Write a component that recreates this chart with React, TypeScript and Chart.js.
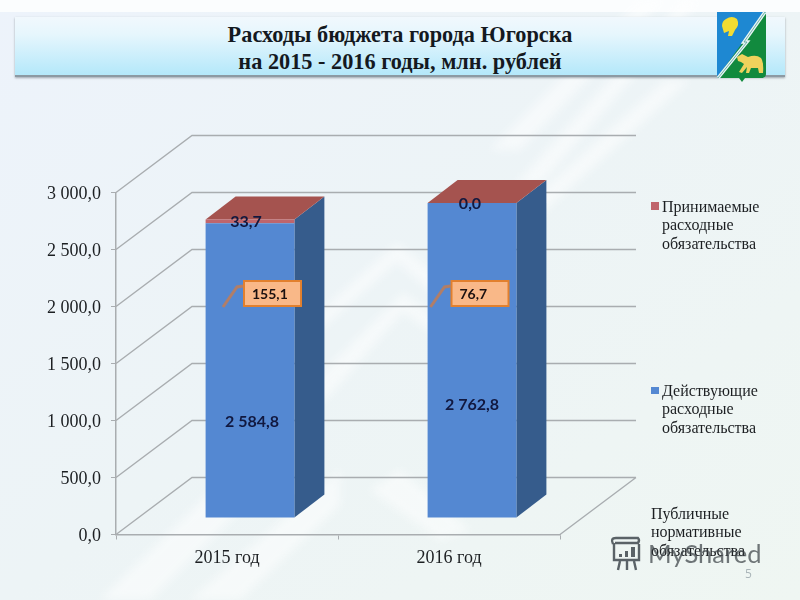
import { useEffect, useRef } from 'react';
import { Chart, registerables, Plugin } from 'chart.js';

Chart.register(...registerables);

const categories = ['2015 год', '2016 год'];
const activeValues = [2584.8, 2762.8];
const acceptedValues = [33.7, 0.0];
const calloutValues = [155.1, 76.7];
const yTicks = [0, 500, 1000, 1500, 2000, 2500, 3000];
const activeName = 'Действующие расходные обязательства';
const acceptedName = 'Принимаемые расходные обязательства';
const publicName = 'Публичные нормативные обязательства';
const titleLines = ['Расходы бюджета города Югорска', 'на 2015 - 2016 годы, млн. рублей'];

const SERIF = '"Liberation Serif", serif';
const LABEL_FONT = 'Lato, "Open Sans", sans-serif';
const BLUE = '#5488d2';
const BLUE_DARK = '#365c8c';
const RED = '#c0656c';
const RED_TOP = '#a5534f';
const GRID = '#a9adb0';

// wall depth of the fake 3D box, bar depth and where the bars sit inside the box
const WALL_DX = 76;
const WALL_DY = 57;
const BAR_DX = 30;
const BAR_DY = 23;
const SHIFT_X = 23;
const SHIFT_Y = 16.5;

const fmt = (v: number) => {
  const [a, b] = v.toFixed(1).split('.');
  return a.replace(/\B(?=(\d{3})+$)/g, ' ') + ',' + b;
};

const box3d: Plugin<'bar'> = {
  id: 'box3d',
  beforeDatasetsDraw(chart) {
    const { ctx, chartArea: a } = chart;
    const y = chart.scales.y;
    ctx.save();
    ctx.strokeStyle = GRID;
    ctx.lineWidth = 1.4;
    ctx.beginPath();
    yTicks.forEach(t => {
      const py = y.getPixelForValue(t);
      ctx.moveTo(a.left, py);
      ctx.lineTo(a.left + WALL_DX, py - WALL_DY);
      ctx.lineTo(a.right + WALL_DX, py - WALL_DY);
    });
    ctx.moveTo(a.right, a.bottom);
    ctx.lineTo(a.right + WALL_DX, a.bottom - WALL_DY);
    ctx.stroke();
    ctx.restore();

    // bars are pushed into the box, restored in afterDatasetsDraw
    ctx.save();
    ctx.translate(SHIFT_X, -SHIFT_Y);
    const low = chart.getDatasetMeta(0).data as any[];
    const high = chart.getDatasetMeta(1).data as any[];
    low.forEach((bar, i) => {
      const { x, width, base } = bar.getProps(['x', 'width', 'base']);
      const top = acceptedValues[i] > 0 ? high[i].y : bar.y;
      const l = x - width / 2;
      const r = x + width / 2;
      ctx.fillStyle = BLUE_DARK;
      ctx.beginPath();
      ctx.moveTo(r, top);
      ctx.lineTo(r + BAR_DX, top - BAR_DY);
      ctx.lineTo(r + BAR_DX, base - BAR_DY);
      ctx.lineTo(r, base);
      ctx.fill();
      ctx.fillStyle = RED_TOP;
      ctx.beginPath();
      ctx.moveTo(l, top);
      ctx.lineTo(l + BAR_DX, top - BAR_DY);
      ctx.lineTo(r + BAR_DX, top - BAR_DY);
      ctx.lineTo(r, top);
      ctx.fill();
    });
  },
  afterDatasetsDraw(chart) {
    const { ctx } = chart;
    ctx.restore();
    const low = chart.getDatasetMeta(0).data as any[];
    const high = chart.getDatasetMeta(1).data as any[];
    const valueNudge = [51, 44.5];
    const calloutNudge = [22.5, 8];
    const topNudge = [-4, -2];

    low.forEach((bar, i) => {
      const cx = bar.x + SHIFT_X;
      const mid = (bar.y + bar.base) / 2 - SHIFT_Y;
      const top = (acceptedValues[i] > 0 ? high[i].y : bar.y) - SHIFT_Y;
      ctx.save();
      ctx.textAlign = 'center';
      ctx.textBaseline = 'middle';
      ctx.fillStyle = '#11183f';
      ctx.font = `bold 16px ${LABEL_FONT}`;
      ctx.fillText(fmt(activeValues[i]), cx + 2 - i * 2, mid + valueNudge[i]);
      ctx.fillText(fmt(acceptedValues[i]), cx + topNudge[i], top + 2 - i);

      // callout with the leader line
      const bx = cx + calloutNudge[i] - 28.5;
      const by = 281;
      ctx.strokeStyle = '#b17e68';
      ctx.lineWidth = 3;
      ctx.beginPath();
      ctx.moveTo(bx - 1, by + 5);
      ctx.lineTo(bx - 7, by + 6);
      ctx.lineTo(bx - 21, by + 26);
      ctx.stroke();
      ctx.fillStyle = '#f9b888';
      ctx.strokeStyle = '#e2802e';
      ctx.lineWidth = 2;
      ctx.fillRect(bx, by, 57, 25);
      ctx.strokeRect(bx, by, 57, 25);
      ctx.fillStyle = '#1a1010';
      ctx.font = `bold 14px ${LABEL_FONT}`;
      ctx.textAlign = 'left';
      ctx.fillText(fmt(calloutValues[i]), bx + 8, by + 13.5);
      ctx.restore();
    });
  },
  afterDraw(chart) {
    const { ctx } = chart;
    const block = (text: string, x: number, y: number) => {
      text.split(' ').forEach((line, n) => ctx.fillText(line, x, y + n * 18.2));
    };
    ctx.save();
    ctx.font = `16px ${SERIF}`;
    ctx.fillStyle = '#1c1f22';
    ctx.textBaseline = 'middle';
    block(acceptedName, 662, 208);
    block(activeName, 662, 392);
    block(publicName, 651, 515);
    ctx.fillStyle = RED;
    ctx.fillRect(651, 202, 8, 8);
    ctx.fillStyle = BLUE;
    ctx.fillRect(651, 387, 8, 7);
    ctx.restore();
  },
};

function Background() {
  const bands = [
    // long diagonals running down from the top right
    '640,0 664,0 520,150 490,150',
    '682,0 700,0 540,185 515,185',
    '665,80 690,80 540,215 515,215',
    // chevrons in the middle
    '397,243 470,300 470,325 397,262 320,330 300,330',
    '403,293 470,340 470,360 403,312 330,395 300,420 300,395',
    // lower left
    '100,600 150,600 300,450 300,405',
    '190,600 240,600 340,505 340,470',
    '400,470 470,530 440,540 370,490',
  ];
  return (
    <svg width={800} height={600} style={{ position: 'absolute', left: 0, top: 0 }}>
      <defs>
        <linearGradient id="bg" x1="0" y1="0" x2="1" y2="1">
          <stop offset="0" stopColor="#edf3fb" />
          <stop offset="0.5" stopColor="#edf4f6" />
          <stop offset="1" stopColor="#eff6f2" />
        </linearGradient>
        <filter id="soft"><feGaussianBlur stdDeviation="4" /></filter>
      </defs>
      <rect width={800} height={600} fill="url(#bg)" />
      <rect width={800} height={12} fill="#fbfdfe" />
      <g fill="#ffffff" opacity={0.5} filter="url(#soft)">
        {bands.map((p, i) => <polygon key={i} points={p} />)}
      </g>
    </svg>
  );
}

function Banner() {
  return (
    <div style={{
      position: 'absolute', left: 15, top: 17, width: 770, height: 60,
      background: 'linear-gradient(#f1f8fd 0%, #e6f6fd 30%, #b4e8fa 100%)',
      borderBottom: '2px solid #8c9aa3', boxShadow: '0 1px 2px rgba(80,90,100,.5)',
      textAlign: 'center', fontFamily: SERIF, fontWeight: 'bold', fontSize: 22.3,
      lineHeight: '27px', color: '#14191f', paddingTop: 4, boxSizing: 'border-box',
    }}>
      {titleLines.map(t => <div key={t}>{t}</div>)}
    </div>
  );
}

function Crest() {
  return (
    <svg width={60} height={80} viewBox="0 0 60 80" style={{ position: 'absolute', left: 711, top: 8 }}>
      <path d="M6 4 H55 V66 Q55 70 50 70 H34 L31 74 L28 70 H6 Z" fill="#118a3e" />
      <path d="M6 4 H55 L29 38 L6 70 Z" fill="#1e88d2" />
      <path d="M54 4 L33 34 L36 34 L7 70" fill="none" stroke="#e8f4f4" strokeWidth={3.4} />
      <path d="M54 4 L33 34 L36 34 L7 70" fill="none" stroke="#4f9f94" strokeWidth={0.8} />
      <path d="M15 11 Q21 7 26 11 Q29 17 24 22 L21 28 L17 28 L18 23 L13 25 L11 18 Q11 13 15 11 Z" fill="#f2dc32" />
      <path d="M26 49 L31 46 L37 49 Q45 46 50 50 Q53 54 52 65 L48 65 L47 60 L40 60 L38 65 L35 65 L36 59 L31 65 L28 64 L33 56 L30 54 L27 53 Z" fill="#efd25c" />
    </svg>
  );
}

function Watermark() {
  return (
    <>
      <svg width={36} height={36} viewBox="0 0 36 36" style={{ position: 'absolute', left: 607, top: 536 }}>
        <g fill="none" stroke="#5a6267" strokeWidth={2.4}>
          <path d="M6 8 Q3 2 9 2 H31 Q33 4 31 7 H8 M7 7 V24 H32 V8" />
          <path d="M13 25 L11 34 M20 25 V34 M27 25 L29 34" />
        </g>
        <g fill="#5a6267">
          <rect x={12} y={18} width={3} height={3} />
          <rect x={18} y={15} width={3} height={6} />
          <rect x={24} y={11} width={4} height={10} />
        </g>
      </svg>
      <div style={{
        position: 'absolute', left: 648, top: 534, fontFamily: 'Lato, sans-serif',
        fontSize: 25.5, lineHeight: '38px', color: 'rgba(60,66,70,.72)',
      }}>MyShared</div>
      <div style={{
        position: 'absolute', left: 745, top: 565, fontFamily: '"Open Sans", sans-serif',
        fontSize: 12, color: '#a9b4b8',
      }}>5</div>
    </>
  );
}

export default function App() {
  const canvasRef = useRef<HTMLCanvasElement | null>(null);

  useEffect(() => {
    document.body.style.margin = '0';
    if (!canvasRef.current) return;
    const chart = new Chart(canvasRef.current, {
      type: 'bar',
      data: {
        labels: categories,
        datasets: [
          { label: activeName, data: activeValues, backgroundColor: BLUE, borderWidth: 0 },
          { label: acceptedName, data: acceptedValues, backgroundColor: RED, borderWidth: 0 },
        ],
      },
      options: {
        responsive: false,
        animation: false,
        devicePixelRatio: 1,
        layout: { padding: { top: 192.5, right: 240, left: 0, bottom: 0 } },
        plugins: { legend: { display: false }, title: { display: false }, tooltip: { enabled: false } },
        datasets: { bar: { barPercentage: 0.4, categoryPercentage: 1 } },
        scales: {
          x: {
            stacked: true,
            afterFit: (s: any) => { s.height = 65.5; },
            border: { color: GRID, width: 1.5 },
            grid: { drawOnChartArea: false, color: GRID, tickLength: 5 },
            ticks: { color: '#1c1f22', padding: 8, font: { family: SERIF, size: 18 } },
          },
          y: {
            stacked: true,
            min: 0,
            max: 3000,
            afterFit: (s: any) => { s.width = 116; },
            afterBuildTicks: (s: any) => { s.ticks = yTicks.map(value => ({ value })); },
            border: { color: GRID, width: 1.5 },
            grid: { drawOnChartArea: false, color: GRID, tickLength: 5 },
            ticks: {
              color: '#1c1f22',
              padding: 10,
              labelOffset: 2,
              font: { family: SERIF, size: 18 },
              callback: (v: any) => fmt(Number(v)),
            },
          },
        },
      },
      plugins: [box3d],
    });
    return () => chart.destroy();
  }, []);

  return (
    <div style={{ position: 'relative', width: 800, height: 600, overflow: 'hidden' }}>
      <Background />
      <Banner />
      <Crest />
      <canvas ref={canvasRef} width={800} height={600} style={{ position: 'absolute', left: 0, top: 0 }} />
      <Watermark />
    </div>
  );
}
